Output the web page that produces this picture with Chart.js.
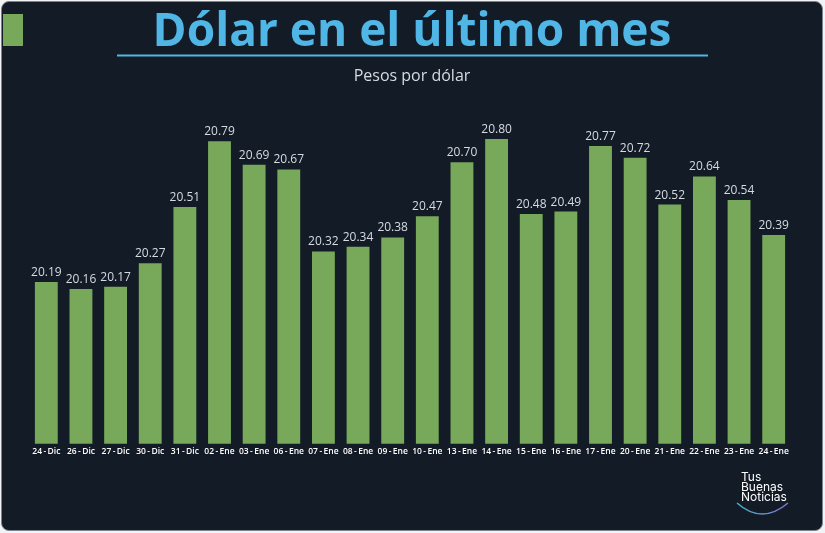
<!DOCTYPE html>
<html>
<head>
<meta charset="utf-8">
<script src="https://cdn.jsdelivr.net/npm/chart.js@4"></script>
<style>
  html, body { margin: 0; padding: 0; background: #f2f3f5; }
  #wrap { position: absolute; left: 0; top: 0; width: 825px; height: 533px; }
  #frame { position: absolute; left: 1px; top: 1px; width: 822px; height: 530px; background: #131b26; border: 1px solid #7d838c; border-radius: 8px; box-sizing: border-box; }
  canvas { position: absolute; left: 0; top: 0; }
</style>
</head>
<body>
<div id="wrap">
  <div id="frame"></div>
  <canvas id="c" width="825" height="533"></canvas>
</div>
<script>
const titleText = "Dólar en el último mes";
const subtitleText = "Pesos por dólar";
const categories = ["24\u2009-\u2009Dic","26\u2009-\u2009Dic","27\u2009-\u2009Dic","30\u2009-\u2009Dic","31\u2009-\u2009Dic","02\u2009-\u2009Ene","03\u2009-\u2009Ene","06\u2009-\u2009Ene","07\u2009-\u2009Ene","08\u2009-\u2009Ene","09\u2009-\u2009Ene","10\u2009-\u2009Ene","13\u2009-\u2009Ene","14\u2009-\u2009Ene","15\u2009-\u2009Ene","16\u2009-\u2009Ene","17\u2009-\u2009Ene","20\u2009-\u2009Ene","21\u2009-\u2009Ene","22\u2009-\u2009Ene","23\u2009-\u2009Ene","24\u2009-\u2009Ene"];
const values = [20.19,20.16,20.17,20.27,20.51,20.79,20.69,20.67,20.32,20.34,20.38,20.47,20.70,20.80,20.48,20.49,20.77,20.72,20.52,20.64,20.54,20.39];
const logoLines = ["Tus","Buenas","Noticias"];

const decor = {
  id: 'decor',
  afterDraw(chart) {
    const ctx = chart.ctx;
    ctx.save();
    // green square
    ctx.fillStyle = '#78a85a';
    ctx.fillRect(3, 14, 20, 32);
    // title
    ctx.fillStyle = '#4fb6e6';
    ctx.font = 'bold 46px "Open Sans"';
    ctx.textAlign = 'center';
    ctx.textBaseline = 'alphabetic';
    ctx.fillText(titleText, 412, 46);
    // underline
    ctx.strokeStyle = '#4fb6e6';
    ctx.lineWidth = 2;
    ctx.beginPath();
    ctx.moveTo(117, 55.5);
    ctx.lineTo(708, 55.5);
    ctx.stroke();
    // subtitle
    ctx.fillStyle = '#d6dbe1';
    ctx.font = '16px "Open Sans"';
    ctx.fillText(subtitleText, 412, 81);
    // value labels
    const meta = chart.getDatasetMeta(0);
    ctx.font = '12px "Open Sans"';
    ctx.fillStyle = '#d6dbe1';
    meta.data.forEach((bar, i) => {
      ctx.fillText(values[i].toFixed(2), bar.x, bar.y - 6);
    });
    // logo
    ctx.textAlign = 'left';
    ctx.fillStyle = '#ffffff';
    ctx.font = '12px "Inter"';
    logoLines.forEach((t, i) => ctx.fillText(t, 741, 481 + i * 10));
    const g = ctx.createLinearGradient(737, 0, 788, 0);
    g.addColorStop(0, '#3fb5c8');
    g.addColorStop(1, '#8a6fd0');
    ctx.strokeStyle = g;
    ctx.lineWidth = 1.5;
    ctx.beginPath();
    ctx.moveTo(737, 503);
    ctx.quadraticCurveTo(762, 525, 788, 503);
    ctx.stroke();
    ctx.restore();
  }
};

new Chart(document.getElementById('c'), {
  type: 'bar',
  data: {
    labels: categories,
    datasets: [{
      data: values,
      backgroundColor: '#78a85a',
      borderWidth: 0,
      categoryPercentage: 0.66,
      barPercentage: 1.0
    }]
  },
  options: {
    responsive: false,
    animation: false,
    devicePixelRatio: 1,
    layout: { padding: { left: 29, right: 34, top: 92, bottom: 73 } },
    plugins: { legend: { display: false }, title: { display: false }, tooltip: { enabled: false } },
    scales: {
      y: { display: false, min: 19.5, max: 21.0 },
      x: {
        grid: { display: false, drawTicks: false },
        border: { display: false },
        ticks: { color: '#ffffff', font: { family: 'Open Sans', size: 8.5, weight: '600' }, padding: 3, maxRotation: 0, autoSkip: false }
      }
    }
  },
  plugins: [decor]
});
</script>
</body>
</html>
